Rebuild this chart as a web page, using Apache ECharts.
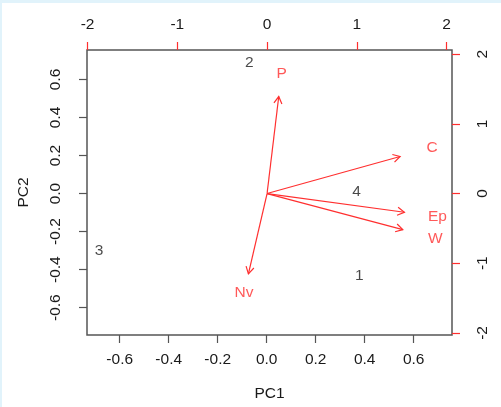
<!DOCTYPE html>
<html>
<head>
<meta charset="utf-8">
<script src="https://cdn.jsdelivr.net/npm/echarts@6/dist/echarts.min.js"></script>
<style>
  html, body { margin: 0; padding: 0; background: #fff; }
  #chart { width: 501px; height: 407px; }
</style>
</head>
<body>
<div id="chart"></div>
<script>
// axis ticks
const pc1Ticks = [-0.6, -0.4, -0.2, 0, 0.2, 0.4, 0.6]
const pc2Ticks = [-0.6, -0.4, -0.2, 0, 0.2, 0.4, 0.6]
const topTicks = [-2, -1, 0, 1, 2]
const rightTicks = [-2, -1, 0, 1, 2]

// observation scores (bottom / left axes)
const obsNames = ['1', '2', '3', '4']
const obsPC1 = [0.378, -0.071, -0.684, 0.367]
const obsPC2 = [-0.430, 0.689, -0.299, 0.011]

// variable loadings (top / right axes)
const varNames = ['W', 'Ep', 'C', 'P', 'Nv']
const varPC1 = [1.512, 1.530, 1.482, 0.130, -0.208]
const varPC2 = [-0.518, -0.268, 0.532, 1.392, -1.152]

const labelStretch = 1.24 // names sit a bit past the arrow tips

const red = '#ff2f2f'
const ink = '#1a1a1a'
const font = 'Liberation Sans, Arial, sans-serif'

const axisBase = (pos, ticks, min, max, tickColor, margin, rotate) => ({
    type: 'value',
    position: pos,
    min: min,
    max: max,
    splitLine: { show: false },
    axisLine: { show: false, onZero: false },
    axisTick: { show: true, length: 8, inside: false, customValues: ticks, lineStyle: { color: tickColor, width: 1.2 } },
    axisLabel: {
        show: true, customValues: ticks, margin: margin, rotate: rotate,
        color: ink, fontSize: 15.5, fontFamily: font,
        formatter: v => (pos === 'bottom' || pos === 'left') ? (+v).toFixed(1) : String(v)
    }
})

const chart = echarts.init(document.getElementById('chart'), null, { renderer: 'canvas' })

const option = {
    animation: false,
    backgroundColor: '#fff',
    textStyle: { fontFamily: font },
    graphic: [
        { type: 'rect', shape: { x: 0, y: 0, width: 501, height: 3 }, style: { fill: '#e1f3fb' } },
        { type: 'rect', shape: { x: 0, y: 0, width: 2, height: 407 }, style: { fill: '#e1f3fb' } }
    ],
    grid: {
        left: 87, top: 50, right: 49, bottom: 67,
        show: true, borderColor: '#555', borderWidth: 1.5, backgroundColor: '#fff'
    },
    xAxis: [
        Object.assign(axisBase('bottom', pc1Ticks, -0.7335, 0.7563, '#555', 17, 0), {
            name: 'PC1', nameLocation: 'middle', nameGap: 51,
            nameTextStyle: { color: ink, fontSize: 15.5, fontFamily: font }
        }),
        axisBase('top', topTicks, -2.006, 2.06, red, 17, 0)
    ],
    yAxis: [
        Object.assign(axisBase('left', pc2Ticks, -0.7437, 0.755, '#555', 23, 90), {
            name: 'PC2', nameLocation: 'middle', nameGap: 55, nameRotate: 90,
            nameTextStyle: { color: ink, fontSize: 15.5, fontFamily: font }
        }),
        axisBase('right', rightTicks, -2.03, 2.06, red, 23, 90)
    ],
    series: [
        {
            // observation labels
            type: 'scatter',
            xAxisIndex: 0, yAxisIndex: 0,
            symbolSize: 1,
            itemStyle: { color: 'rgba(0,0,0,0)' },
            label: { show: true, position: 'inside', formatter: p => p.name, color: ink, fontSize: 15.5, fontFamily: font },
            data: obsNames.map((n, i) => ({ name: n, value: [obsPC1[i], obsPC2[i]] }))
        },
        {
            // loading arrows with open heads
            type: 'custom',
            xAxisIndex: 1, yAxisIndex: 1,
            clip: false,
            encode: { x: 0, y: 1 },
            renderItem: (params, api) => {
                const o = api.coord([0, 0])
                const t = api.coord([api.value(0), api.value(1)])
                const ang = Math.atan2(t[1] - o[1], t[0] - o[0])
                const L = 8, a = Math.PI / 6
                const p1 = [t[0] - L * Math.cos(ang - a), t[1] - L * Math.sin(ang - a)]
                const p2 = [t[0] - L * Math.cos(ang + a), t[1] - L * Math.sin(ang + a)]
                return {
                    type: 'group',
                    children: [
                        { type: 'line', shape: { x1: o[0], y1: o[1], x2: t[0], y2: t[1] }, style: { stroke: red, lineWidth: 1.2 } },
                        { type: 'polyline', shape: { points: [p1, t, p2] }, style: { stroke: red, lineWidth: 1.2, fill: null } }
                    ]
                }
            },
            data: varPC1.map((x, i) => [x, varPC2[i]])
        },
        {
            // variable names
            type: 'scatter',
            xAxisIndex: 1, yAxisIndex: 1,
            symbolSize: 1,
            itemStyle: { color: 'rgba(0,0,0,0)' },
            label: { show: true, position: 'inside', formatter: p => p.name, color: red, fontSize: 15.5, fontFamily: font },
            data: varNames.map((n, i) => ({ name: n, value: [varPC1[i] * labelStretch, varPC2[i] * labelStretch] }))
        }
    ]
}

chart.setOption(option)
</script>
</body>
</html>
